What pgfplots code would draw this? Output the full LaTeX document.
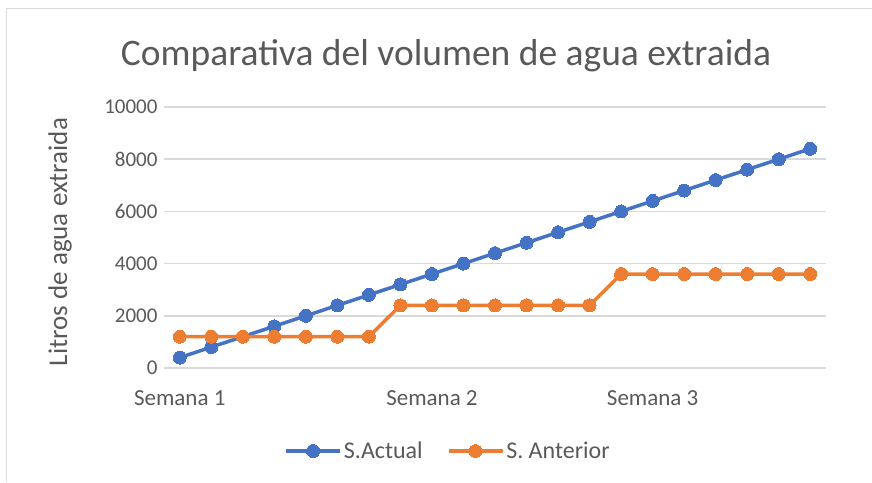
\documentclass[border=0pt]{standalone}
\usepackage{pgfplots}
\pgfplotsset{compat=1.18}
\usepackage{fontspec}
\setmainfont{Carlito}
\definecolor{xblue}{HTML}{4472C4}
\definecolor{xorange}{HTML}{ED7D31}
\definecolor{xtext}{HTML}{595959}
\definecolor{xgrid}{HTML}{D9D9D9}
\begin{document}
\begin{tikzpicture}[x=1pt,y=1pt]
\path[use as bounding box] (0,0) rectangle (872,482);
\draw[xgrid, line width=1.5pt] (6.5,0) -- (6.5,473.5) -- (872,473.5);
\node[text=xtext, font=\fontsize{37.5}{42}\selectfont] at (446,426) {Comparativa del volumen de agua extraida};
\node[text=xtext, font=\fontsize{27}{30}\selectfont, rotate=90] at (60,240) {Litros de agua extraida};
\begin{axis}[
  at={(164pt,114pt)}, anchor=south west,
  width=662pt, height=261pt, scale only axis,
  xmin=-0.5, xmax=20.5, ymin=0, ymax=10000,
  ytick={0,2000,4000,6000,8000,10000},
  xtick={0,8,15},
  xticklabels={Semana 1,Semana 2,Semana 3},
  /pgf/number format/assume math mode=true,
  scaled y ticks=false,
  yticklabel style={/pgf/number format/1000 sep={}, text=xtext, font=\fontsize{21}{24}\selectfont, anchor=east, xshift=-3pt},
  xticklabel style={text=xtext, font=\fontsize{23}{26}\selectfont, anchor=north, yshift=-19pt},
  axis line style={draw=none},
  major tick length=0pt,
  ymajorgrids, grid style={xgrid, line width=1.5pt},
  legend columns=2,
  legend style={draw=none, fill=none, at={(0.429,-0.318)}, anchor=center,
    font=\fontsize{24}{27}\selectfont, text=xtext,
    /tikz/every even column/.append style={column sep=22pt}},
  legend image code/.code={\draw[mark repeat=2,mark phase=2,#1] plot coordinates {(0pt,0pt) (27pt,0pt) (54pt,0pt)};},
  clip=false,
]
\addplot[xblue, line width=3.5pt, mark=*, mark size=6.5pt, mark options={solid, fill=xblue, draw=xblue, line width=0pt}] coordinates {
(0,400) (1,800) (2,1200) (3,1600) (4,2000) (5,2400) (6,2800) (7,3200) (8,3600) (9,4000) (10,4400)
(11,4800) (12,5200) (13,5600) (14,6000) (15,6400) (16,6800) (17,7200) (18,7600) (19,8000) (20,8400)};
\addlegendentry{S.Actual}
\addplot[xorange, line width=3.5pt, mark=*, mark size=6.5pt, mark options={solid, fill=xorange, draw=xorange, line width=0pt}] coordinates {
(0,1200) (1,1200) (2,1200) (3,1200) (4,1200) (5,1200) (6,1200) (7,2400) (8,2400) (9,2400) (10,2400)
(11,2400) (12,2400) (13,2400) (14,3600) (15,3600) (16,3600) (17,3600) (18,3600) (19,3600) (20,3600)};
\addlegendentry{S. Anterior}
\end{axis}
\end{tikzpicture}
\end{document}
